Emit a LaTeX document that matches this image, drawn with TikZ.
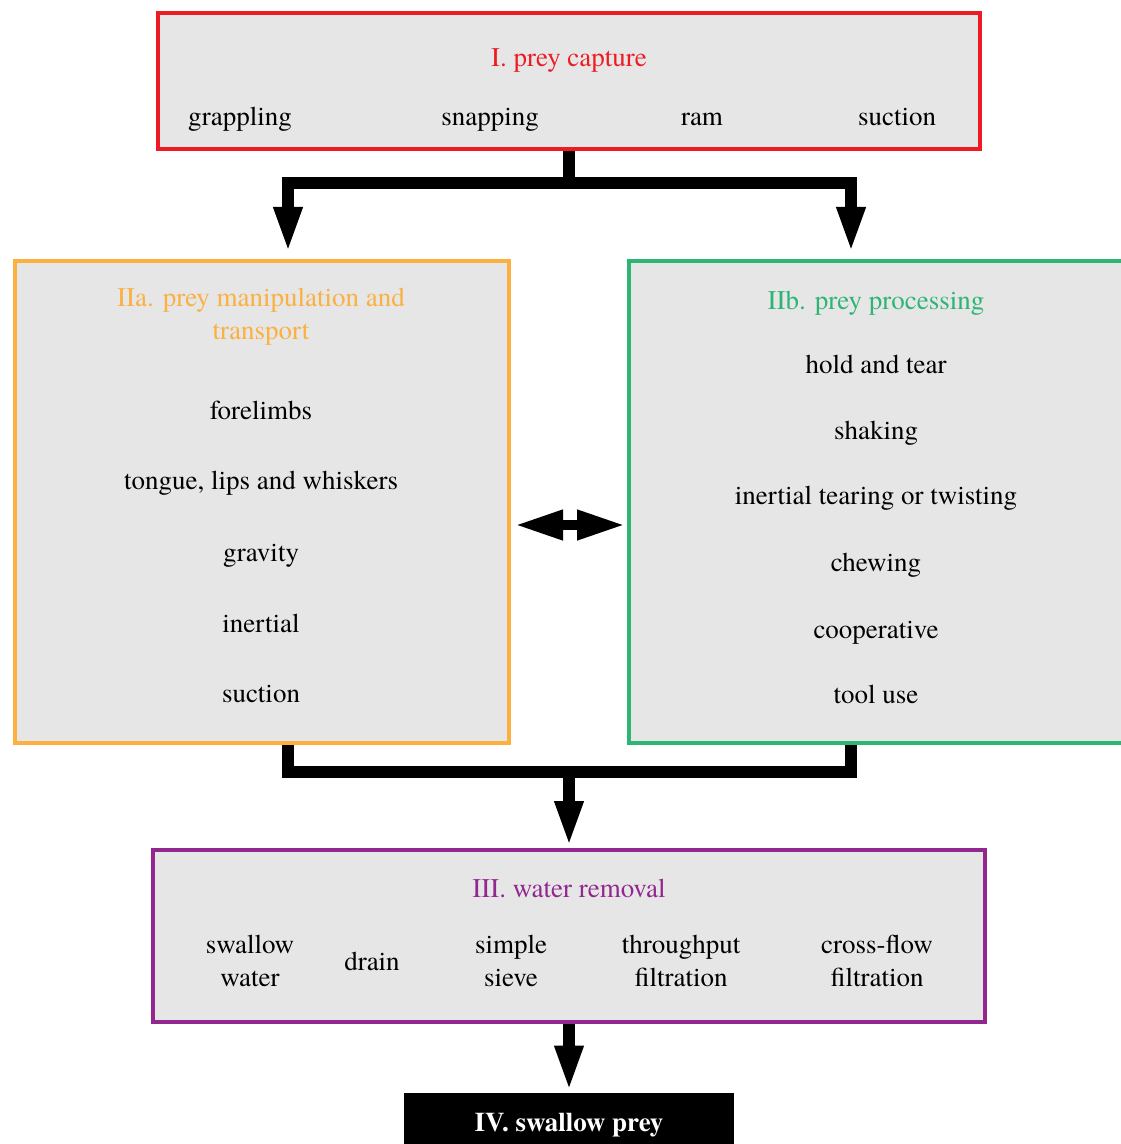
\documentclass[tikz,border=0pt]{standalone}
\usepackage{fontspec}
\setmainfont{texgyretermes}[Extension=.otf, UprightFont=*-regular, BoldFont=*-bold, ItalicFont=*-italic, BoldItalicFont=*-bolditalic]
\usetikzlibrary{arrows.meta}
\definecolor{boxgray}{HTML}{E6E6E6}
\definecolor{capturered}{HTML}{ED1C24}
\definecolor{maniporange}{HTML}{FBB040}
\definecolor{processgreen}{HTML}{2DB574}
\definecolor{waterpurple}{HTML}{92278F}
\tikzset{
  stage/.style={draw, line width=2pt, fill=boxgray, inner sep=0pt},
  word/.style={text height=9.5pt, text depth=3pt, yshift=-1.5pt},
  link/.style={line width=6pt, line join=miter},
  swap/.style={line width=5pt, {Triangle[length=24pt,width=14pt]}-{Triangle[length=24pt,width=14pt]}}
}
\begin{document}
\begin{tikzpicture}[x=0.5pt, y=-0.5pt, font=\fontsize{13.5}{16.5}\selectfont,
    >={Triangle[length=23pt,width=13pt]}]
  \useasboundingbox (0,0) rectangle (1120,1144);
  % stage boxes
  \node[stage, draw=capturered, minimum width=411pt, minimum height=68pt] (capture) at (569,81) {};
  \node[stage, draw=maniporange, minimum width=247pt, minimum height=241pt] (manip) at (262,502) {};
  \node[stage, draw=processgreen, minimum width=247pt, minimum height=241pt] (process) at (876,502) {};
  \node[stage, draw=waterpurple, minimum width=416pt, minimum height=86pt] (water) at (569,936) {};
  \node[fill=black, inner sep=0pt, minimum width=165pt, minimum height=29pt] (swallow) at (569,1122) {};

  % I. prey capture
  \node[word, text=capturered] (t1) at (569,57) {I. prey capture};
  \node[word] (grappling) at (240,116) {grappling};
  \node[word] (snapping) at (490,116) {snapping};
  \node[word] (ram) at (702,116) {ram};
  \node[word] (suction1) at (897,116) {suction};

  % IIa. manipulation and transport
  \node[text=maniporange, align=center] (t2a) at (261,317) {IIa. prey manipulation and\\transport};
  \node[word] (forelimbs) at (261,410) {forelimbs};
  \node[word] (tongue) at (261,480) {tongue, lips and whiskers};
  \node[word] (gravity) at (261,552) {gravity};
  \node[word] (inertial) at (261,623) {inertial};
  \node[word] (suction2) at (261,693) {suction};

  % IIb. processing
  \node[word, text=processgreen] (t2b) at (876,300) {IIb. prey processing};
  \node[word] (hold) at (876,364) {hold and tear};
  \node[word] (shaking) at (876,430) {shaking};
  \node[word] (tearing) at (876,495) {inertial tearing or twisting};
  \node[word] (chewing) at (876,562) {chewing};
  \node[word] (coop) at (876,629) {cooperative};
  \node[word] (tool) at (876,694) {tool use};

  % III. water removal
  \node[word, text=waterpurple] (t3) at (569,888) {III. water removal};
  \node[align=center] (swallowwater) at (250,961) {swallow\\water};
  \node[word] (drain) at (372,961) {drain};
  \node[align=center] (sieve) at (511,961) {simple\\sieve};
  \node[align=center] (throughput) at (681,961) {throughput\\filtration};
  \node[align=center] (crossflow) at (877,961) {cross-flow\\filtration};

  % IV.
  \node[word, text=white, font=\fontsize{13.5}{16.5}\selectfont\bfseries] (t4) at (swallow) {IV. swallow prey};

  % connectors
  \coordinate (splitL) at (288,183);
  \coordinate (splitR) at (851,183);
  \coordinate (joinL) at (288,772);
  \coordinate (joinR) at (851,772);
  \coordinate (merge) at (569,772);
  \coordinate (swapL) at (515,525);
  \coordinate (swapR) at (625,525);
  \draw[link] (capture.south) -- (capture.south |- splitL);
  \draw[link, <->, shorten <=3pt, shorten >=3pt]
    (splitL |- manip.north) -- (splitL) -- (splitR) -- (splitR |- process.north);
  \draw[link] (joinL |- manip.south) -- (joinL) -- (joinR) -- (joinR |- process.south);
  \draw[link, ->, shorten >=0.5pt] (merge) -- (water.north);
  \draw[link, ->, shorten >=0.5pt] (water.south) -- (swallow.north);
  \draw[swap] (swapL) -- (swapR);
\end{tikzpicture}
\end{document}
